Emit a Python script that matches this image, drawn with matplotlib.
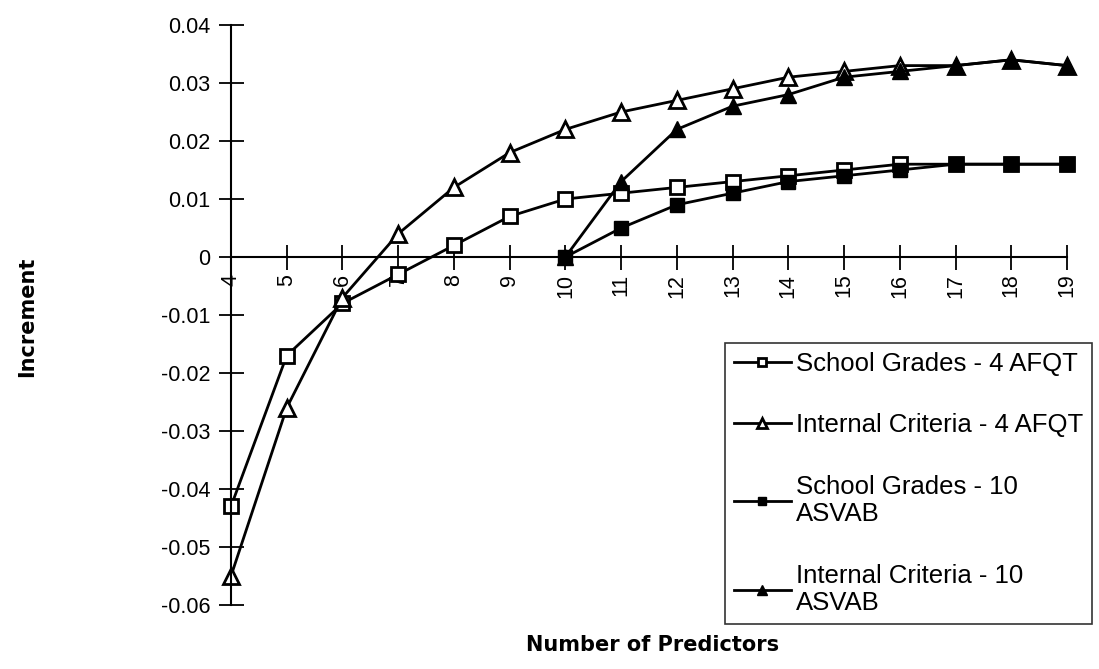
import matplotlib.pyplot as plt

# число предикторов
x = list(range(4, 20))

# School Grades - 4 AFQT
sg4 = [-0.043, -0.017, -0.008, -0.003, 0.002, 0.007, 0.010, 0.011,
       0.012, 0.013, 0.014, 0.015, 0.016, 0.016, 0.016, 0.016]
# Internal Criteria - 4 AFQT
ic4 = [-0.055, -0.026, -0.007, 0.004, 0.012, 0.018, 0.022, 0.025,
       0.027, 0.029, 0.031, 0.032, 0.033, 0.033, 0.034, 0.033]

x10 = list(range(10, 20))
# School Grades - 10 ASVAB
sg10 = [0.000, 0.005, 0.009, 0.011, 0.013, 0.014, 0.015, 0.016, 0.016, 0.016]
# Internal Criteria - 10 ASVAB
ic10 = [0.000, 0.013, 0.022, 0.026, 0.028, 0.031, 0.032, 0.033, 0.034, 0.033]

yticks = [0.04, 0.03, 0.02, 0.01, 0, -0.01, -0.02, -0.03, -0.04, -0.05, -0.06]
ytick_labels = ['0.04', '0.03', '0.02', '0.01', '0', '-0.01', '-0.02', '-0.03',
                '-0.04', '-0.05', '-0.06']

labels = ['School Grades - 4 AFQT', 'Internal Criteria - 4 AFQT',
          'School Grades - 10\nASVAB', 'Internal Criteria - 10\nASVAB']

plt.rcParams['font.family'] = ['Liberation Sans', 'DejaVu Sans']

fig = plt.figure(figsize=(10.99, 6.69), dpi=100)
ax = fig.add_axes([231 / 1099, 1 - 605 / 669, (1067 - 231) / 1099, (605 - 25) / 669])

ax.spines['top'].set_visible(False)
ax.spines['right'].set_visible(False)
ax.spines['bottom'].set_position(('data', 0))
ax.spines['left'].set_linewidth(1.5)
ax.spines['bottom'].set_linewidth(1.5)

lw = 2
ax.plot(x, sg4, color='black', lw=lw, marker='s', ms=10, mfc='white', mec='black', mew=2,
        clip_on=False, label=labels[0])
ax.plot(x, ic4, color='black', lw=lw, marker='^', ms=11, mfc='white', mec='black', mew=2,
        clip_on=False, label=labels[1])
ax.plot(x10, sg10, color='black', lw=lw, marker='s', ms=10, mfc='black', mec='black',
        clip_on=False, label=labels[2])
ax.plot(x10, ic10, color='black', lw=lw, marker='^', ms=11, mfc='black', mec='black',
        clip_on=False, label=labels[3])

ax.set_xlim(4, 19)
ax.set_ylim(-0.06, 0.04)
ax.set_xticks(x)
ax.set_xticklabels([str(v) for v in x])
ax.set_yticks(yticks)
ax.set_yticklabels(ytick_labels)

ax.tick_params(axis='y', direction='inout', length=18, width=1.3, labelsize=15.5, pad=6)
ax.tick_params(axis='x', direction='inout', length=18, width=1.3, labelsize=15.5, pad=3,
               labelrotation=90)

fig.text(27 / 1099, 1 - 317 / 669, 'Increment', rotation=90, ha='center', va='center',
         fontsize=15, fontweight='bold', family='DejaVu Sans')
fig.text(653 / 1099, 1 - 645 / 669, 'Number of Predictors', ha='center', va='center',
         fontsize=15, fontweight='bold', family='DejaVu Sans')

leg = fig.legend(loc='upper left', bbox_to_anchor=(725 / 1099, 1 - 343 / 669),
                 fontsize=18.5, frameon=True, fancybox=False, edgecolor='black',
                 handlelength=2.2, handletextpad=0.2, labelspacing=1.45,
                 borderpad=0.35, borderaxespad=0, markerscale=0.6)
leg.get_frame().set_linewidth(1.2)

plt.savefig('out.png', dpi=100)
